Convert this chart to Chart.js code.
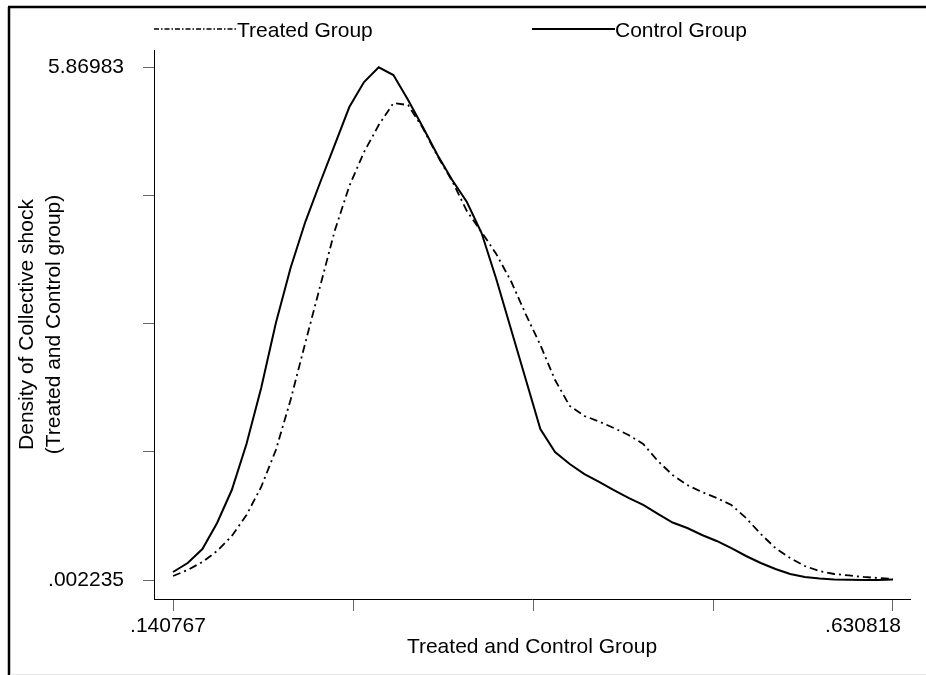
<!DOCTYPE html>
<html>
<head>
<meta charset="utf-8">
<title>Density of Collective shock</title>
<script src="https://cdn.jsdelivr.net/npm/chart.js@4.4.0/dist/chart.umd.min.js"></script>
<style>
  html, body { margin: 0; padding: 0; background: #fff; }
  canvas { display: block; }
</style>
</head>
<body>
<canvas id="densityChart" width="926" height="675"></canvas>
<script>
// kdensity evaluation grid (50 points, min to max)
const gridX = [
  .140767, .150768, .160769, .170770, .180771, .190772, .200773, .210774, .220775, .230776,
  .240777, .250778, .260779, .270780, .280781, .290782, .300783, .310784, .320785, .330786,
  .340787, .350788, .360789, .370790, .380791, .390792, .400793, .410794, .420795, .430796,
  .440797, .450798, .460799, .470800, .480801, .490802, .500803, .510804, .520805, .530806,
  .540807, .550808, .560809, .570810, .580811, .590812, .600813, .610814, .620815, .630818
];

const treated = [
  0.048, 0.117, 0.208, 0.334, 0.506, 0.746, 1.067, 1.490, 2.062, 2.714,
  3.355, 3.996, 4.511, 4.900, 5.209, 5.461, 5.438, 5.175, 4.854, 4.568,
  4.225, 3.985, 3.733, 3.424, 3.046, 2.692, 2.291, 1.994, 1.879, 1.816,
  1.742, 1.662, 1.559, 1.364, 1.204, 1.089, 1.009, 0.941, 0.861, 0.712,
  0.529, 0.368, 0.254, 0.162, 0.105, 0.071, 0.054, 0.037, 0.025, 0.014
];

const control = [
  0.094, 0.197, 0.357, 0.655, 1.032, 1.559, 2.200, 2.943, 3.573, 4.099,
  4.546, 4.980, 5.415, 5.701, 5.86983, 5.781, 5.495, 5.186, 4.866, 4.580,
  4.328, 3.973, 3.447, 2.875, 2.302, 1.730, 1.467, 1.330, 1.215, 1.124,
  1.032, 0.941, 0.861, 0.758, 0.660, 0.597, 0.517, 0.449, 0.368, 0.277,
  0.197, 0.128, 0.071, 0.037, 0.019, 0.008, 0.004, 0.002235, 0.003, 0.008
];

const seriesNames = ['Treated Group', 'Control Group'];

const xTicks = [.140767, .263280, .385792, .508305, .630818];
const xTickLabels = ['.140767', '', '', '', '.630818'];
const yTicks = [.002235, 1.469134, 2.936033, 4.402931, 5.86983];
const yTickLabels = ['.002235', '', '', '', '5.86983'];

const FONT = '"Liberation Sans", Arial, Helvetica, sans-serif';
const treatedDash = [8, 4, 2, 4];
const legendDash = [5, 2, 1.5, 2];

// white page with the frame lines of the exported graph
const framePlugin = {
  id: 'frame',
  beforeDraw(chart) {
    const ctx = chart.ctx;
    ctx.save();
    ctx.fillStyle = '#fff';
    ctx.fillRect(0, 0, chart.width, chart.height);
    ctx.strokeStyle = '#000';
    ctx.lineWidth = 2.5;
    ctx.beginPath();
    ctx.moveTo(8, 7);
    ctx.lineTo(chart.width, 7);
    ctx.moveTo(9, 7);
    ctx.lineTo(9, chart.height);
    ctx.stroke();
    ctx.strokeStyle = '#e6e6e6';
    ctx.lineWidth = 1;
    ctx.beginPath();
    ctx.moveTo(10, chart.height - 0.5);
    ctx.lineTo(chart.width, chart.height - 0.5);
    ctx.stroke();
    ctx.restore();
  }
};

// legend on top, two columns over the plot region
const legendPlugin = {
  id: 'stataLegend',
  afterDraw(chart) {
    const ctx = chart.ctx;
    const area = chart.chartArea;
    const colW = (area.right - area.left) / 2;
    const y = 29;
    ctx.save();
    ctx.font = '21px ' + FONT;
    ctx.fillStyle = '#000';
    ctx.textBaseline = 'alphabetic';
    chart.data.datasets.forEach((ds, i) => {
      const x0 = area.left + i * colW;
      ctx.strokeStyle = '#000';
      ctx.lineWidth = i === 0 ? 1.5 : 2;
      ctx.setLineDash(i === 0 ? legendDash : []);
      ctx.beginPath();
      ctx.moveTo(x0, y);
      ctx.lineTo(x0 + 83, y);
      ctx.stroke();
      ctx.fillText(ds.label, x0 + 83, y + 7.5);
    });
    ctx.restore();
  }
};

// x tick labels, placed like the Stata export (last one pulled inwards)
const xLabelPlugin = {
  id: 'xLabels',
  afterDraw(chart) {
    const ctx = chart.ctx;
    const sx = chart.scales.x;
    ctx.save();
    ctx.font = '21px ' + FONT;
    ctx.fillStyle = '#000';
    ctx.textBaseline = 'alphabetic';
    xTicks.forEach((v, i) => {
      const label = xTickLabels[i];
      if (!label) return;
      const px = sx.getPixelForValue(v);
      if (i === xTicks.length - 1) {
        ctx.textAlign = 'right';
        ctx.fillText(label, px + 8, 631.5);
      } else {
        ctx.textAlign = 'center';
        ctx.fillText(label, px - 5, 631.5);
      }
    });
    ctx.restore();
  }
};

const ctx = document.getElementById('densityChart').getContext('2d');

new Chart(ctx, {
  type: 'line',
  data: {
    datasets: [
      {
        label: seriesNames[0],
        data: gridX.map((x, i) => ({ x: x, y: treated[i] })),
        borderColor: '#000',
        borderWidth: 1.8,
        borderDash: treatedDash,
        pointRadius: 0,
        tension: 0,
        fill: false
      },
      {
        label: seriesNames[1],
        data: gridX.map((x, i) => ({ x: x, y: control[i] })),
        borderColor: '#000',
        borderWidth: 2,
        pointRadius: 0,
        tension: 0,
        fill: false
      }
    ]
  },
  options: {
    responsive: false,
    animation: false,
    devicePixelRatio: 1,
    layout: { padding: { left: 0, top: 50, right: 16, bottom: 0 } },
    plugins: {
      legend: { display: false },
      tooltip: { enabled: false }
    },
    scales: {
      x: {
        type: 'linear',
        min: 0.12783,
        max: 0.64239,
        afterBuildTicks: scale => { scale.ticks = xTicks.map(v => ({ value: v })); },
        afterFit: scale => { scale.height = 76; },
        grid: { display: true, drawOnChartArea: false, drawTicks: true, tickLength: 12, color: '#666', lineWidth: 1 },
        border: { display: true, color: '#000', width: 1 },
        ticks: { display: false },
        title: {
          display: true,
          text: 'Treated and Control Group',
          color: '#000',
          font: { family: FONT, size: 21 },
          padding: { top: 0, bottom: 15 }
        }
      },
      y: {
        type: 'linear',
        min: -0.2152,
        max: 6.068,
        afterBuildTicks: scale => { scale.ticks = yTicks.map(v => ({ value: v })); },
        afterFit: scale => { scale.width = 154; },
        grid: { display: true, drawOnChartArea: false, drawTicks: true, tickLength: 11, color: '#666', lineWidth: 1 },
        border: { display: true, color: '#000', width: 1 },
        ticks: {
          autoSkip: false,
          padding: 19,
          color: '#000',
          font: { family: FONT, size: 21 },
          callback: (value, index) => yTickLabels[index]
        },
        title: {
          display: true,
          text: ['Density of Collective shock', '(Treated and Control group)'],
          color: '#000',
          font: { family: FONT, size: 21, lineHeight: 1.29 },
          padding: { top: 14, bottom: 0 }
        }
      }
    }
  },
  plugins: [framePlugin, legendPlugin, xLabelPlugin]
});
</script>
</body>
</html>
